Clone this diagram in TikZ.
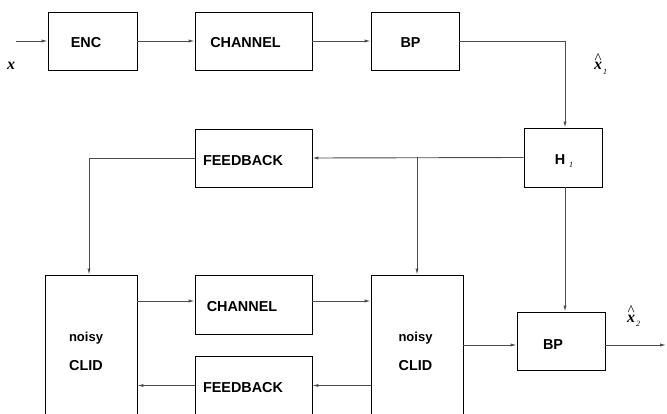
\documentclass[tikz,border=0pt]{standalone}
\usepackage{fontspec}
\setmainfont{Liberation Serif}
\newfontfamily\boxfont{Liberation Sans}
\usetikzlibrary{arrows.meta}

\newcommand{\hatvar}[1]{\shortstack{\fontsize{15}{15}\selectfont\^{}\\[-4pt]\fontsize{16}{16}\selectfont\textbf{\textit{x}}}\hspace{1pt}\raisebox{-5pt}{\fontsize{8}{8}\selectfont\textit{#1}}}

\begin{document}
\begin{tikzpicture}[x=1pt,y=-1pt,
      box/.style={draw,line width=0.8pt,inner sep=0pt},
      tag/.style={font=\boxfont\bfseries\fontsize{14.4}{17}\selectfont,align=center},
      var/.style={font=\fontsize{16}{16}\selectfont,inner sep=0pt},
      arr/.style={-{Latex[length=6pt,width=3.2pt]},line width=0.9pt,draw=black!70}]
      \useasboundingbox (0,0) rectangle (667,414);
      \clip (0,0) rectangle (667,414);
      % top row
      \node[box,minimum width=89pt,minimum height=58pt,label={[tag,xshift=-6.5pt,yshift=-2pt]center:ENC}] (enc) at (92.5,41) {};
      \node[box,minimum width=117pt,minimum height=58pt,label={[tag,xshift=-8pt,yshift=-2pt]center:CHANNEL}] (chan) at (253.5,41) {};
      \node[box,minimum width=88pt,minimum height=58pt,label={[tag,xshift=-4.5pt,yshift=-2pt]center:BP}] (bp) at (415,41) {};
      \node[box,minimum width=78pt,minimum height=59pt,label={[tag,xshift=1pt,yshift=-3.5pt]center:H\hspace{4pt}\raisebox{-3pt}{\normalfont\itshape\fontsize{8}{8}\selectfont 1}}] (h1) at (563,157.5) {};
      \node[box,minimum width=117pt,minimum height=58pt,label={[tag,xshift=-10.5pt,yshift=-3pt]center:FEEDBACK}] (fb) at (253.5,158) {};
      % lower loop
      \node[box,minimum width=92pt,minimum height=175pt,label={[tag,xshift=-5pt,yshift=11pt]center:{\fontsize{13}{13}\selectfont noisy}\\[12pt]CLID}] (clid1) at (91,362.5) {};
      \node[box,minimum width=117pt,minimum height=59pt,label={[tag,xshift=-11.5pt,yshift=-2.5pt]center:CHANNEL}] (chan2) at (253.5,304.5) {};
      \node[box,minimum width=117pt,minimum height=59pt,label={[tag,xshift=-10.5pt,yshift=-2.5pt]center:FEEDBACK}] (fb2) at (253.5,385.5) {};
      \node[box,minimum width=92pt,minimum height=175pt,label={[tag,xshift=-1.5pt,yshift=11pt]center:{\fontsize{13}{13}\selectfont noisy}\\[12pt]CLID}] (clid2) at (417,362.5) {};
      \node[box,minimum width=88pt,minimum height=58pt,label={[tag,xshift=-8pt,yshift=-4pt]center:BP}] (bp2) at (561,341) {};
      % signals
      \coordinate (xin) at (16,41);
      \coordinate (xout) at (666,345);
      \node[var] (xlab) at (11,66) {\textbf{\textit{x}}};
      \node[var,anchor=base west] (xhat1) at (594,70) {\hatvar{1}};
      \node[var,anchor=base west] (xhat2) at (627,322) {\hatvar{2}};
      % connectors
      \draw[arr] (xin) -- (enc);
      \draw[arr] (enc) -- (chan);
      \draw[arr] (chan) -- (bp);
      \draw[arr] (bp.east) -| ([xshift=2pt]h1.north);
      \draw[arr] (h1.west) -- (fb.east);
      \draw[arr] (clid2.north |- h1.west) -- (clid2.north);
      \draw[arr] (fb.west) -| ([xshift=-2pt]clid1.north);
      \draw[arr] ([yshift=3.5pt]clid1.east |- chan2.west) -- ([yshift=3.5pt]chan2.west);
      \draw[arr] ([yshift=3.5pt]chan2.east) -- ([yshift=3.5pt]chan2.east -| clid2.west);
      \draw[arr] (clid2.west |- fb2.east) -- (fb2.east);
      \draw[arr] (fb2.west) -- (fb2.west -| clid1.east);
      \draw[arr] ([xshift=2pt]h1.south) -- ([xshift=4pt]bp2.north);
      \draw[arr] ([yshift=-4pt]clid2.east |- bp2.west) -- ([yshift=-4pt]bp2.west);
      \draw[arr] ([yshift=-4pt]bp2.east) -- (xout);
\end{tikzpicture}
\end{document}
